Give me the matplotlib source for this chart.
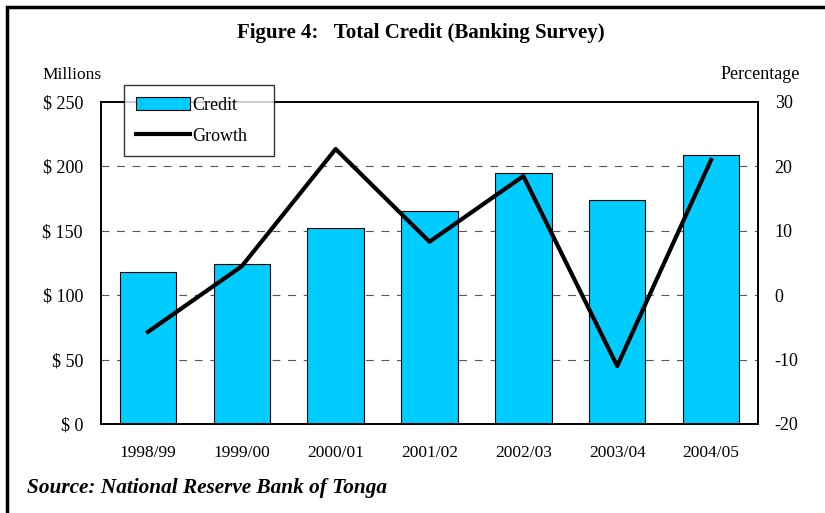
import numpy as np
import matplotlib.pyplot as plt
from matplotlib.patches import Rectangle

# Total credit (T$ millions) and annual growth (%)
years = ['1998/99', '1999/00', '2000/01', '2001/02', '2002/03', '2003/04', '2004/05']
credit = [118, 124, 152, 165, 195, 174, 209]
growth = [-5.7, 4.5, 22.7, 8.3, 18.5, -11.0, 21.0]

left_ticks = [0, 50, 100, 150, 200, 250]
left_labels = ['$ 0', '$ 50', '$ 100', '$ 150', '$ 200', '$ 250']
right_ticks = [-20, -10, 0, 10, 20, 30]
right_labels = ['-20', '-10', '0', '10', '20', '30']

plt.rcParams['font.family'] = ['Liberation Serif', 'DejaVu Serif']

fig = plt.figure(figsize=(8.25, 5.13), dpi=100)
ax = fig.add_axes([101 / 825, 1 - 424 / 513, 657 / 825, 322 / 513])

x = np.arange(len(years))
ax.bar(x, credit, width=0.6, color='#00CCFF', edgecolor='black', linewidth=0.8,
       label='Credit', zorder=2)
ax.set_xlim(-0.5, len(years) - 0.5)
ax.set_ylim(0, 250)
ax.set_yticks(left_ticks)
ax.set_yticklabels(left_labels, fontsize=13)
ax.set_xticks(x)
ax.set_xticklabels(years, fontsize=12.5)
ax.tick_params(axis='y', length=0, pad=13)
ax.tick_params(axis='x', length=0, pad=15)
for y in left_ticks[1:-1]:
    ax.axhline(y, color='#555555', linestyle=(0, (7, 7)), linewidth=0.8, zorder=1)
for s in ax.spines.values():
    s.set_linewidth(1.2)

ax2 = ax.twinx()
ax2.plot(x, growth, color='black', linewidth=3, label='Growth', zorder=3)
ax2.set_ylim(-20, 30)
ax2.set_yticks(right_ticks)
ax2.set_yticklabels(right_labels, fontsize=13)
ax2.tick_params(axis='y', length=0, pad=12)
for s in ax2.spines.values():
    s.set_linewidth(1.2)

h1, l1 = ax.get_legend_handles_labels()
h2, l2 = ax2.get_legend_handles_labels()
leg = ax2.legend(h1 + h2, l1 + l2, loc='upper left',
                 bbox_to_anchor=(0.035, 1.053, 0.228, 0.0), mode='expand',
                 borderaxespad=0, fontsize=13, frameon=True, fancybox=False,
                 edgecolor='black', handlelength=3.0, handleheight=0.8,
                 labelspacing=0.75, borderpad=0.65, handletextpad=0.15)
leg.get_frame().set_linewidth(1)
leg.set_zorder(10)

fig.text(42 / 825, 1 - 75 / 513, 'Millions', fontsize=12.5, va='center', ha='left')
fig.text(800 / 825, 1 - 75 / 513, 'Percentage', fontsize=13, va='center', ha='right')
fig.text(421 / 825, 1 - 33 / 513, 'Figure 4:   Total Credit (Banking Survey)',
         fontsize=15, fontweight='bold', ha='center', va='center')
fig.text(27 / 825, 1 - 488 / 513, 'Source: National Reserve Bank of Tonga',
         fontsize=15.3, fontweight='bold', style='italic', ha='left', va='center')

# outer frame around the figure
fig.patches.append(Rectangle((7 / 825, -0.05), 1.0, 1 - 7 / 513 + 0.05,
                             transform=fig.transFigure, fill=False,
                             edgecolor='black', linewidth=2.5))

fig.savefig('out.png', dpi=100)
